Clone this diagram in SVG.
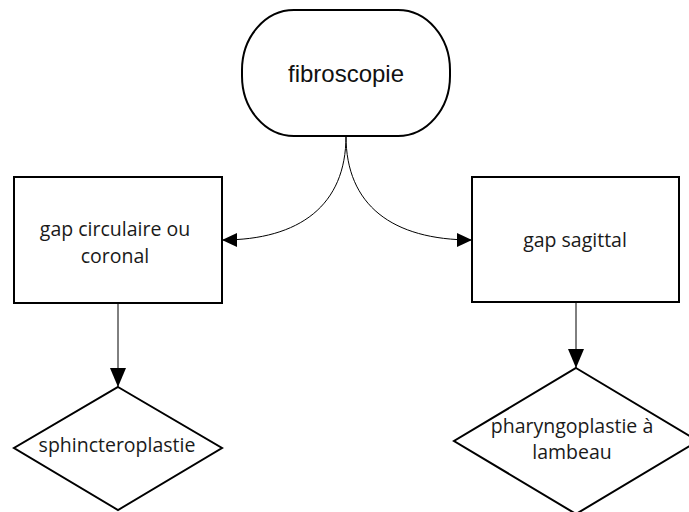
<svg xmlns="http://www.w3.org/2000/svg" width="689" height="512" viewBox="0 0 689 512">
  <style>
    .shape { fill: #ffffff; stroke: #000000; stroke-width: 2; }
    .edge { fill: none; stroke: #000000; stroke-width: 1; }
    .title { font-family: "Liberation Sans", Arial, sans-serif; font-size: 24px; fill: #111111; text-anchor: middle; }
    .label { font-family: "Open Sans", "Noto Sans", sans-serif; font-size: 19.5px; fill: #1a1a1a; text-anchor: middle; }
  </style>
  <defs>
    <marker id="arrow-side" viewBox="0 0 15 14" refX="15" refY="7" markerWidth="15" markerHeight="14" markerUnits="userSpaceOnUse" orient="auto">
      <path d="M0,0 L15,7 L0,14 Z" fill="#000000"/>
    </marker>
    <marker id="arrow-down" viewBox="0 0 19 16" refX="19" refY="8" markerWidth="19" markerHeight="16" markerUnits="userSpaceOnUse" orient="auto">
      <path d="M0,0 L19,8 L0,16 Z" fill="#000000"/>
    </marker>
  </defs>
  <rect width="689" height="512" fill="#ffffff"/>

  <!-- connectors -->
  <g id="connectors">
    <path class="edge" d="M346,136 C346,205 300,240 222,240" marker-end="url(#arrow-side)"/>
    <path class="edge" d="M346,136 C346,205 392,240 472,240" marker-end="url(#arrow-side)"/>
    <path class="edge" d="M118,303 L118,387" marker-end="url(#arrow-down)"/>
    <path class="edge" d="M576,302 L576,368" marker-end="url(#arrow-down)"/>
  </g>

  <g id="fibroscopie">
    <rect class="shape" x="242" y="10" width="208" height="126" rx="52" ry="60"/>
    <text class="title" x="346" y="82">fibroscopie</text>
  </g>

  <g id="gap-circulaire">
    <rect class="shape" x="14" y="177" width="208" height="126"/>
    <text class="label" x="115" y="236">gap circulaire ou</text>
    <text class="label" x="115" y="263">coronal</text>
  </g>

  <g id="gap-sagittal">
    <rect class="shape" x="472" y="177" width="207" height="125"/>
    <text class="label" x="575" y="247">gap sagittal</text>
  </g>

  <g id="sphincteroplastie">
    <polygon class="shape" points="118,387 222,448 118,510 14,448"/>
    <text class="label" x="117" y="452">sphincteroplastie</text>
  </g>

  <g id="pharyngoplastie">
    <polygon class="shape" points="576,368 698,441 576,514 454,441"/>
    <text class="label" x="572" y="433">pharyngoplastie à</text>
    <text class="label" x="572" y="459">lambeau</text>
  </g>
</svg>
